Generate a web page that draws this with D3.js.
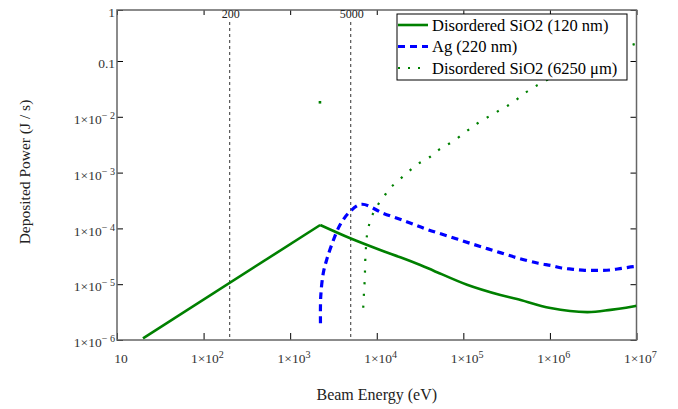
<!DOCTYPE html>
<html>
<head>
<meta charset="utf-8">
<script src="https://cdn.jsdelivr.net/npm/d3@7"></script>
<style>
  html, body { margin: 0; padding: 0; background: #fff; }
  svg { display: block; }
  svg text { font-family: "Liberation Serif", "Tinos", "Times New Roman", "DejaVu Serif", "Noto Serif", serif; }
</style>
</head>
<body>
<svg id="chart" width="678" height="409"></svg>
<script>
// ---------- data (log10 of energy in eV, log10 of power in J/s) ----------
const sio2ThinLogE = [1.30, 3.347, 3.694, 4.04, 4.272, 4.503, 4.657, 5.043, 5.428, 5.62, 6.006, 6.43, 6.70, 6.99, 7.0];
const sio2ThinLogP = [-5.97, -3.939, -4.177, -4.387, -4.518, -4.656, -4.758, -5.01, -5.194, -5.265, -5.427, -5.50, -5.46, -5.39, -5.385];

const agLogE = [3.350, 3.353, 3.382, 3.421, 3.479, 3.575, 3.69, 3.826, 4.075, 4.345, 4.576, 4.845, 5.114, 5.365, 5.615, 5.865, 6.02, 6.135, 6.269, 6.404, 6.558, 6.693, 6.828, 6.962, 7.0];
const agLogP = [-5.70, -5.224, -4.805, -4.566, -4.297, -3.939, -3.70, -3.568, -3.729, -3.88, -4.016, -4.149, -4.285, -4.405, -4.525, -4.625, -4.668, -4.71, -4.733, -4.751, -4.751, -4.746, -4.715, -4.686, -4.68];

const sio2ThickLogE = [3.844, 3.852, 3.862, 3.866, 3.875, 3.89, 3.913, 3.941, 3.979, 4.029, 4.095, 4.152, 4.222, 4.349, 4.476, 4.614, 4.73, 4.868, 5.042, 5.169, 5.365, 5.561, 5.746, 5.965, 6.45, 6.947, 7.0];
const sio2ThickLogP = [-5.421, -5.163, -4.894, -4.625, -4.357, -4.088, -3.927, -3.79, -3.67, -3.539, -3.401, -3.281, -3.181, -3.007, -2.846, -2.72, -2.577, -2.452, -2.254, -2.111, -1.932, -1.753, -1.538, -1.341, -1.0, -0.714, -0.69];
const sio2ThickSpikeLogE = [3.344];
const sio2ThickSpikeLogP = [-1.74];

const seriesNames = ["Disordered SiO2 (120 nm)", "Ag (220 nm)", "Disordered SiO2 (6250 \u03bcm)"];
const markerValues = [200, 5000];
const markerLabels = ["200", "5000"];

const xTickValues = [10, 1e2, 1e3, 1e4, 1e5, 1e6, 1e7];
const xTickLabels = ["10", "1\u00d710^2", "1\u00d710^3", "1\u00d710^4", "1\u00d710^5", "1\u00d710^6", "1\u00d710^7"];
const yTop = 0.82; // upper limit of the plotted range (labelled "1" as in the reference)
const yTickValues = [1e-6, 1e-5, 1e-4, 1e-3, 1e-2, 0.1, yTop];
const yTickLabels = ["1\u00d710^\u2212 6", "1\u00d710^\u2212 5", "1\u00d710^\u2212 4", "1\u00d710^\u2212 3", "1\u00d710^\u2212 2", "0.1", "1"];

// ---------- layout ----------
const svg = d3.select("#chart");
const m = { left: 117, right: 41.5, top: 10, bottom: 69 };
const W = 678, H = 409;
const iw = W - m.left - m.right, ih = H - m.top - m.bottom;

const x = d3.scaleLog().domain([10, 1e7]).range([0, iw]);
const y = d3.scaleLog().domain([1e-6, yTop]).range([ih, 0]);

const g = svg.append("g").attr("transform", `translate(${m.left},${m.top})`);

svg.append("defs").append("clipPath").attr("id", "clip")
  .append("rect").attr("x", 0).attr("y", 0).attr("width", iw).attr("height", ih);

function supLabel(sel, labels, vals) {
  sel.each(function(d) {
    const i = vals.indexOf(d);
    const t = labels[i];
    const el = d3.select(this);
    el.text(null);
    const parts = t.split("^");
    el.append("tspan").text(parts[0]);
    if (parts.length > 1) {
      el.append("tspan").attr("dy", "-0.5em").attr("font-size", "0.75em").text(parts[1]);
    }
  });
}

// axes
const xAxis = d3.axisBottom(x).tickValues(xTickValues).tickSizeInner(-7).tickSizeOuter(0).tickPadding(13).tickFormat(() => "");
const xg = g.append("g").attr("transform", `translate(0,${ih})`).call(xAxis).attr("font-family", null);
xg.select(".domain").remove();
xg.selectAll(".tick line").attr("stroke", "#000").attr("stroke-width", 1);
xg.selectAll(".tick text").attr("font-size", 13.5).attr("fill", "#333").attr("dx", "0.25em")
  .call(supLabel, xTickLabels, xTickValues);

const xTop = d3.axisTop(x).tickValues(xTickValues).tickSizeInner(-5).tickSizeOuter(0).tickFormat(() => "");
const xtg = g.append("g").call(xTop);
xtg.select(".domain").remove();
xtg.selectAll(".tick line").attr("stroke", "#000");

const yAxis = d3.axisLeft(y).tickValues(yTickValues).tickSizeInner(-6).tickSizeOuter(0).tickPadding(2).tickFormat(() => "");
const yg = g.append("g").call(yAxis).attr("font-family", null);
yg.select(".domain").remove();
yg.selectAll(".tick line").attr("stroke", "#000");
yg.selectAll(".tick text").attr("font-size", 13.5).attr("fill", "#333").attr("dy", "0.5em")
  .call(supLabel, yTickLabels, yTickValues);

const yRight = d3.axisRight(y).tickValues(yTickValues).tickSizeInner(-6).tickSizeOuter(0).tickFormat(() => "");
const yrg = g.append("g").attr("transform", `translate(${iw},0)`).call(yRight);
yrg.select(".domain").remove();
yrg.selectAll(".tick line").attr("stroke", "#000");

// frame
g.append("rect").attr("x", 0).attr("y", 0).attr("width", iw).attr("height", ih)
  .attr("fill", "none").attr("stroke", "#666").attr("stroke-width", 1.5);

// markers
markerValues.forEach((v, i) => {
  g.append("line").attr("x1", x(v)).attr("x2", x(v)).attr("y1", 12).attr("y2", ih)
    .attr("stroke", "#555").attr("stroke-width", 1.2).attr("stroke-dasharray", "3,3");
  g.append("text").attr("x", x(v) + 1).attr("y", 8).attr("text-anchor", "middle")
    .attr("font-size", 12).attr("fill", "#222").text(markerLabels[i]);
});

// lines
const toPts = (le, lp) => le.map((e, i) => [Math.pow(10, e), Math.pow(10, lp[i])]);
const lineLin = d3.line().x(d => x(d[0])).y(d => y(d[1])).curve(d3.curveLinear);
const lineSmooth = d3.line().x(d => x(d[0])).y(d => y(d[1])).curve(d3.curveCatmullRom.alpha(0.5));

const plot = g.append("g").attr("clip-path", "url(#clip)");
const thin = toPts(sio2ThinLogE, sio2ThinLogP);
plot.append("path").datum(thin.slice(0, 2))
  .attr("d", lineLin).attr("fill", "none").attr("stroke", "#008000").attr("stroke-width", 2.6);
plot.append("path").datum(thin.slice(1))
  .attr("d", lineSmooth).attr("fill", "none").attr("stroke", "#008000").attr("stroke-width", 2.6);
plot.append("path").datum(toPts(agLogE, agLogP))
  .attr("d", lineSmooth).attr("fill", "none").attr("stroke", "#0000ff").attr("stroke-width", 3.2)
  .attr("stroke-dasharray", "7,5");
plot.append("path").datum(toPts(sio2ThickLogE, sio2ThickLogP))
  .attr("d", lineSmooth).attr("fill", "none").attr("stroke", "#008000").attr("stroke-width", 2.2)
  .attr("stroke-dasharray", "2.2,9.5");
plot.selectAll(".spike").data(toPts(sio2ThickSpikeLogE, sio2ThickSpikeLogP)).enter()
  .append("rect").attr("class", "spike")
  .attr("x", d => x(d[0]) - 1.3).attr("y", d => y(d[1]) - 1.3)
  .attr("width", 2.6).attr("height", 2.6).attr("fill", "#008000");

// legend
const lg = svg.append("g");
lg.append("rect").attr("x", 397).attr("y", 14).attr("width", 230).attr("height", 66)
  .attr("fill", "#fff").attr("stroke", "#000").attr("stroke-width", 1);
const styles = [
  { stroke: "#008000", w: 2.6, dash: null },
  { stroke: "#0000ff", w: 3.2, dash: "7,5" },
  { stroke: "#008000", w: 2, dash: "2,8" }
];
const rowY = [25, 46.5, 68];
seriesNames.forEach((name, i) => {
  lg.append("line").attr("x1", 398).attr("x2", 428).attr("y1", rowY[i]).attr("y2", rowY[i])
    .attr("stroke", styles[i].stroke).attr("stroke-width", styles[i].w)
    .attr("stroke-dasharray", styles[i].dash);
  lg.append("text").attr("x", 432).attr("y", rowY[i]).attr("dy", "0.35em")
    .attr("font-size", 16.5).attr("fill", "#000").text(name);
});

// axis titles
svg.append("text").attr("x", m.left + iw / 2).attr("y", 400).attr("text-anchor", "middle")
  .attr("font-size", 16).attr("fill", "#222").text("Beam Energy (eV)");
svg.append("text").attr("transform", `translate(30,172) rotate(-90)`).attr("text-anchor", "middle")
  .attr("font-size", 15.5).attr("fill", "#222").text("Deposited Power (J / s)");
</script>
</body>
</html>
